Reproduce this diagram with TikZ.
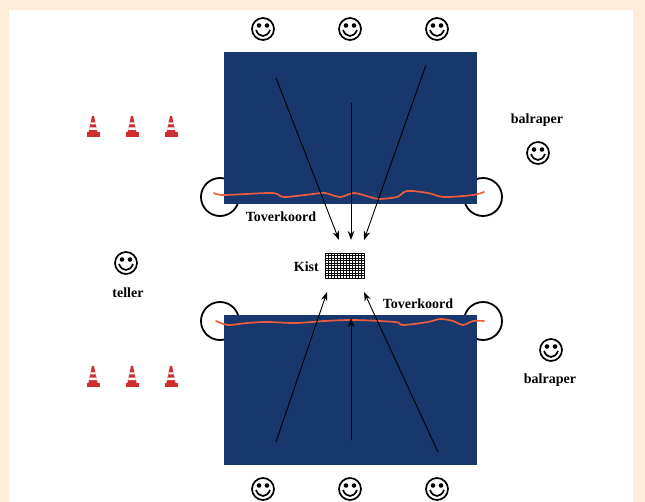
\documentclass[tikz,border=0pt]{standalone}
\usepackage{fontspec}
\setmainfont{Liberation Serif}
\usetikzlibrary{arrows.meta}

\definecolor{veld}{RGB}{24,55,108}
\definecolor{koord}{RGB}{236,92,62}
\definecolor{perzik}{RGB}{253,236,217}
\definecolor{pylonrood}{RGB}{206,46,46}

\tikzset{
  smiley/.pic={
    \draw[line width=1.7pt] (0,0) circle [radius=11];
    \fill (-4,-3.5) circle [radius=2.3];
    \fill (4,-3.5) circle [radius=2.3];
    \draw[line width=1.7pt] (-7,1) .. controls (-4,9) and (4,9) .. (7,1);
  },
  pylon/.pic={
    \fill[pylonrood] (-6.5,1) rectangle (6.5,-3.5);
    \fill[pylonrood] (-4.8,-2) -- (-1,-20) -- (1,-20) -- (4.8,-2) -- cycle;
    \fill[white] (-3.9,-6) -- (3.9,-6) -- (3.4,-8.5) -- (-3.4,-8.5) -- cycle;
    \fill[white] (-2.8,-11.5) -- (2.8,-11.5) -- (2.4,-13.5) -- (-2.4,-13.5) -- cycle;
  },
  label/.style={font=\bfseries\fontsize{14}{16}\selectfont, inner sep=0pt},
  lus/.style={line width=1.8pt},
  touw/.style={koord, line width=1.7pt, line cap=round},
  pijl/.style={-{Stealth[length=9pt,width=6.5pt]}, line width=0.9pt},
}

\begin{document}
\begin{tikzpicture}[x=1pt,y=-1pt]

\useasboundingbox (0,0) rectangle (645,502);
\fill[perzik] (0,0) rectangle (645,502);
\fill[white] (9,10) rectangle (633,502);

% lussen aan de hoeken
\draw[lus] (220,197) circle [radius=19];
\draw[lus] (483,197) circle [radius=19];
\draw[lus] (220,321) circle [radius=19];
\draw[lus] (483,321) circle [radius=19];

% velden
\fill[veld] (224,52) rectangle (477,204);
\fill[veld] (224,315) rectangle (477,465);

% toverkoorden
\draw[touw] plot[smooth, tension=0.5] coordinates {(214,193) (224,195) (272,193) (284,197) (313,194) (325,193) (340,197) (354,193) (370,197) (379,199) (397,197) (407,191) (428,193) (444,197) (473,195) (484,192)};
\draw[touw] plot[smooth, tension=0.5] coordinates {(216,321) (228,325) (247,323) (267,322) (296,323) (325,321) (354,320) (395,322) (403,325) (428,322) (440,319) (453,321) (463,325) (473,321) (484,321)};

% spelers boven en onder
\foreach \x in {263,350,437}{
  \pic at (\x,29) {smiley};
  \pic at (\x,489) {smiley};
}

% pionnen
\foreach \x in {93,132,171}{
  \pic at (\x,136) {pylon};
  \pic at (\x,386) {pylon};
}

% kist
\node[draw, line width=0.8pt, minimum width=39pt, minimum height=25pt, inner sep=0pt,
  path picture={
    \foreach \i in {1,...,12} \draw[line width=0.4pt] ([xshift=\i*3pt]path picture bounding box.south west) -- ++(0,-25);
    \foreach \j in {1,...,9} \draw[line width=0.4pt] ([yshift=\j*2.5pt]path picture bounding box.south west) -- ++(39,0);
  }] (kist) at (344.5,265.5) {};
\node[label, anchor=east] (kistlabel) at (319,267) {Kist};

\node[label] (koord1) at (281,217) {Toverkoord};
\node[label] (koord2) at (418,304) {Toverkoord};

\node[label] (raper1) at (537,120) {balraper};
\pic at (538,153) {smiley};
\pic at (551,350) {smiley};
\node[label] (raper2) at (550,380) {balraper};

\pic at (126,263) {smiley};
\node[label] (teller) at (128,293) {teller};

% looplijnen naar de kist
\coordinate (b1) at (276,78);
\coordinate (b2) at (351,103);
\coordinate (b3) at (426,65);
\coordinate (k1) at (339,240);
\coordinate (k2) at (351,240);
\coordinate (k3) at (364,240);
\draw[pijl] (b1) -- (k1);
\draw[pijl] (b2) -- (k2);
\draw[pijl] (b3) -- (k3);

\coordinate (o1) at (276,442);
\coordinate (o2) at (351,440);
\coordinate (o3) at (438,452);
\coordinate (m1) at (327,292);
\coordinate (m2) at (351,318);
\coordinate (m3) at (364,292);
\draw[pijl] (o1) -- (m1);
\draw[pijl] (o2) -- (m2);
\draw[pijl] (o3) -- (m3);

\end{tikzpicture}
\end{document}
